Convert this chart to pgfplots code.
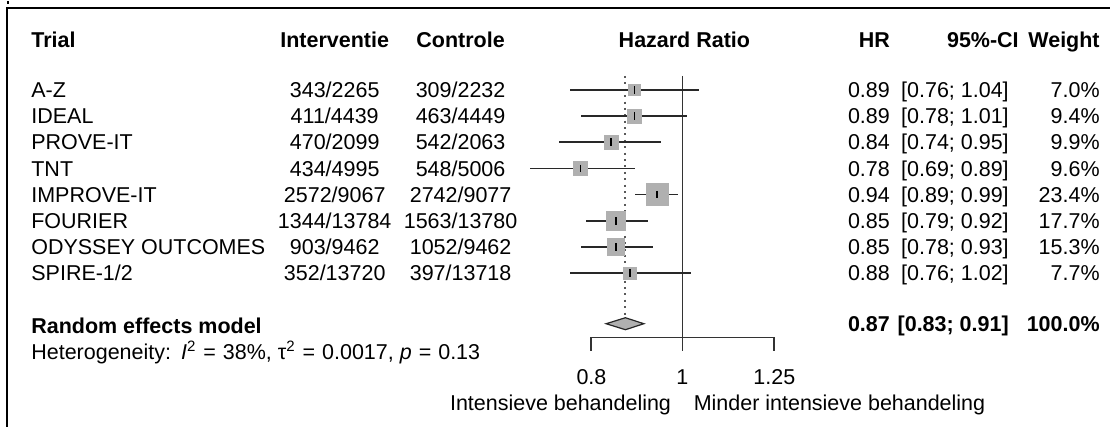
\documentclass[border=0pt]{standalone}
\usepackage{pgfplots}
\usepackage{pgfplotstable}
\pgfplotsset{compat=1.18}
\usepackage{fontspec}
\setmainfont{Liberation Sans}
\definecolor{sqgray}{RGB}{176,176,176}
\definecolor{cigray}{RGB}{40,40,40}

% row centre (px from top), HR, 95% CI, weight in %
\pgfplotstableread{
y      hr    lo    hi    w
89.0   0.89  0.76  1.04  7.0
115.2  0.89  0.78  1.01  9.4
141.4  0.84  0.74  0.95  9.9
167.6  0.78  0.69  0.89  9.6
193.8  0.94  0.89  0.99  23.4
220.0  0.85  0.79  0.92  17.7
246.2  0.85  0.78  0.93  15.3
272.4  0.88  0.76  1.02  7.7
}\trials

% one text row of the table
\newcommand\trow[7]{%
  \node[l] at (31,#1) {#2};
  \node[c] at (335,#1) {#3};
  \node[c] at (461,#1) {#4};
  \node[r] at (891,#1) {#5};
  \node[r] at (1010,#1) {#6};
  \node[r] at (1101,#1) {#7};}
\newcommand\eq{\hspace{3.5pt}=\hspace{3.5pt}}

\begin{document}
\fontsize{10.75}{13}\selectfont
\begin{tikzpicture}[
  cell/.style={inner sep=0pt, text height=0.716em, text depth=0pt},
  l/.style={cell, anchor=west},
  r/.style={cell, anchor=east},
  c/.style={cell, anchor=center}]
\begin{axis}[
  at={(0,0)}, anchor=north west,
  scale only axis, width=555.5pt, height=213pt,
  xmode=log, xmin=0.18899, xmax=2.8403,
  ymin=0, ymax=426, y dir=reverse,
  hide axis, clip=false]
% line of no effect and pooled estimate
\addplot[black!80, line width=0.75pt] coordinates {(1,75)(1,350)};
\addplot[black!65, line width=1pt, dash pattern=on 1pt off 2.2pt] coordinates {(0.87,75)(0.87,316)};
% study squares, side ~ sqrt(weight)
\addplot[scatter, only marks, mark=square*, color=sqgray,
  scatter/use mapped color={draw=sqgray, fill=sqgray},
  visualization depends on={1.12*sqrt(\thisrow{w}) \as \msz},
  scatter/@pre marker code/.append style={/tikz/mark size=\msz pt}]
  table[x=hr, y=y] {\trials};
% confidence intervals and point ticks
\addplot[only marks, mark=|, mark size=1.9pt, mark options={line width=0.75pt, black},
  error bars/.cd, x dir=both, x explicit, error mark=none,
  error bar style={cigray, line width=0.85pt}]
  table[x=hr, y=y,
    x error plus expr=\thisrow{hi}-\thisrow{hr},
    x error minus expr=\thisrow{hr}-\thisrow{lo}] {\trials};
% random effects diamond
\addplot[fill=sqgray, draw=black!85, line width=0.6pt]
  coordinates {(0.83,323)(0.87,317)(0.91,323)(0.87,329)} -- cycle;
% x axis bracket
\draw[black!80, line width=0.65pt] (axis cs:0.8,350) -- (axis cs:0.8,337)
  -- (axis cs:1.25,337) -- (axis cs:1.25,350);
\end{axis}

\begin{scope}[x=0.5pt, y=-0.5pt]
\path (0,0) rectangle (1111,426);
\draw[line width=1pt] (7,426) -- (7,7) -- (1111,7);
\draw[line width=1pt] (8,0) -- (8,3);

\node[l] at (31,39) {\bfseries Trial};
\node[c] at (335,39) {\bfseries Interventie};
\node[c] at (461,39) {\bfseries Controle};
\node[c] at (685,39) {\bfseries Hazard Ratio};
\node[r] at (891,39) {\bfseries HR};
\node[r] at (1020,39) {\bfseries 95\%-CI};
\node[r] at (1101,39) {\bfseries Weight};

\trow{89.0}{A-Z}{343/2265}{309/2232}{0.89}{[0.76; 1.04]}{7.0\%}
\trow{115.2}{IDEAL}{411/4439}{463/4449}{0.89}{[0.78; 1.01]}{9.4\%}
\trow{141.4}{PROVE-IT}{470/2099}{542/2063}{0.84}{[0.74; 0.95]}{9.9\%}
\trow{167.6}{TNT}{434/4995}{548/5006}{0.78}{[0.69; 0.89]}{9.6\%}
\trow{193.8}{IMPROVE-IT}{2572/9067}{2742/9077}{0.94}{[0.89; 0.99]}{23.4\%}
\trow{220.0}{FOURIER}{1344/13784}{1563/13780}{0.85}{[0.79; 0.92]}{17.7\%}
\trow{246.2}{ODYSSEY OUTCOMES}{903/9462}{1052/9462}{0.85}{[0.78; 0.93]}{15.3\%}
\trow{272.4}{SPIRE-1/2}{352/13720}{397/13718}{0.88}{[0.76; 1.02]}{7.7\%}

\node[l] at (31,325) {\bfseries Random effects model};
\node[r] at (891,323) {\bfseries 0.87};
\node[r] at (1010,323) {\bfseries [0.83; 0.91]};
\node[r] at (1101,323) {\bfseries 100.0\%};
\node[l] at (31,351)
  {Heterogeneity:\hspace{1pt} \textit{I}\textsuperscript{2}\eq 38\%, τ\textsuperscript{2}\eq 0.0017, \textit{p}\eq 0.13};

\node[c] at (592,376) {0.8};
\node[c] at (683,376) {1};
\node[c] at (775,376) {1.25};
\node[r] at (672,402) {Intensieve behandeling};
\node[l] at (694,402) {Minder intensieve behandeling};
\end{scope}
\end{tikzpicture}
\end{document}
